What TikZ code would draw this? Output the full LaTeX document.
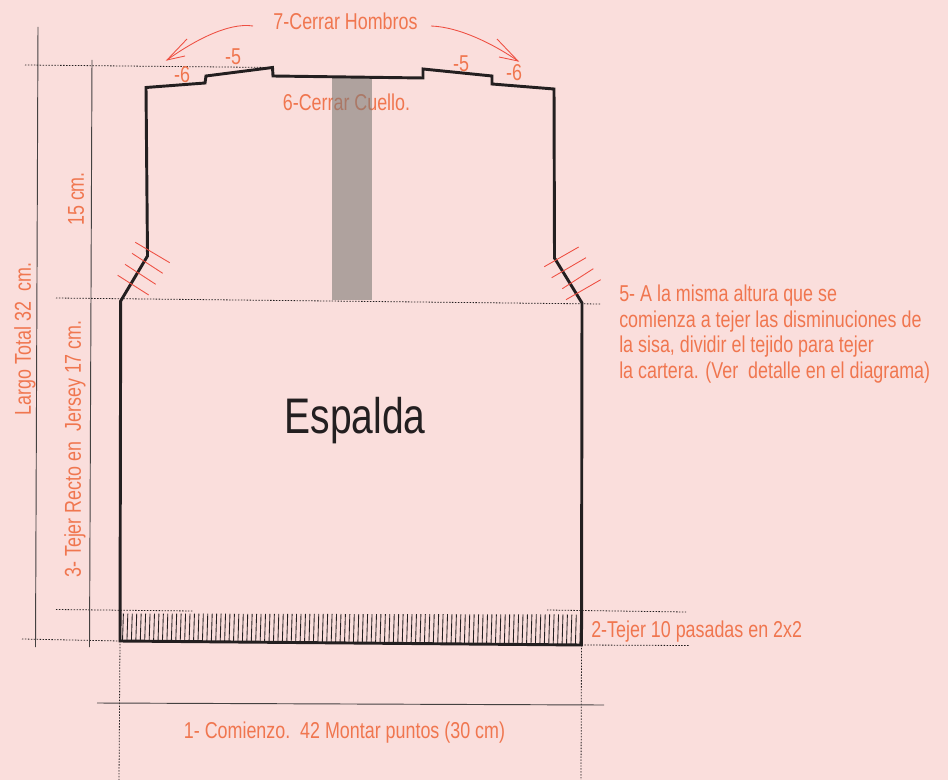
\documentclass[tikz,border=0pt]{standalone}
\usepackage{fontspec}
\setmainfont[FakeStretch=0.78]{Liberation Sans}
\definecolor{bgpink}{HTML}{FADEDC}
\definecolor{txtor}{HTML}{F0764F}
\definecolor{redln}{HTML}{EE4F42}
\definecolor{inkk}{HTML}{231F20}
\definecolor{neckc}{HTML}{7D7A76}
\tikzset{
  x=0.75pt,y=-0.75pt,
  lab/.style={text=txtor,font=\fontsize{17.2pt}{20pt}\selectfont,inner sep=0pt},
  outlinee/.style={draw=inkk,line width=2.2pt,line join=miter},
  dots/.style={draw=inkk,line width=0.6pt,dash pattern=on 1.1pt off 1.1pt},
  dim/.style={draw=inkk!85,line width=0.7pt},
  hatchred/.style={draw=redln,line width=0.65pt},
  arr/.style={draw=redln,line width=0.65pt},
}
\begin{document}
\begin{tikzpicture}
\path[use as bounding box,fill=bgpink] (0,0) rectangle (948,780);
% coordinates
\coordinate (bl) at (120,641);
\coordinate (br) at (581.5,645);
\coordinate (ul) at (120.7,301);
\coordinate (ur) at (582,303);
\coordinate (sl) at (147.5,256);
\coordinate (sr) at (554.5,258);
\coordinate (tl) at (146,87.5);
\coordinate (tr) at (554,89);
\coordinate (pl) at (272.5,67.5);
% text below the neck band
\node[lab,anchor=center] (neck) at (346.5,102) {6-Cerrar Cuello.};
\fill[neckc,opacity=0.6] (332,77) rectangle (372,300);
% ribbing
\foreach \i in {0,...,103}{
  \pgfmathsetmacro{\xx}{122.5+\i*4.44}
  \pgfmathsetmacro{\yt}{613.5+\i*0.01}
  \pgfmathsetmacro{\yb}{641+\i*0.04}
  \draw[draw=inkk,line width=0.65pt] (\xx,\yb) -- (\xx+0.9,\yt);
}
% dotted guides
\draw[dots] (25,65) -- (pl);
\draw[dots] (56,298) -- (600,304);
\draw[dots] (56,609.5) -- (193,611);
\draw[dots] (547,610) -- (686,612);
\draw[dots] (22,639) -- (bl);
\draw[dots] (br) -- (689,645.5);
\draw[dots] (bl) -- (119,780);
\draw[dots] (br) -- (581,780);
% dimension lines
\draw[dim] (38,27) -- (35.5,647);
\draw[dim] (92,60) -- (89.5,647);
\draw[dim] (97,703) -- (604,705);
% garment outline
\draw[outlinee] (bl) -- (ul) -- (sl) -- (tl) -- (205,83) -- (206,76) -- (pl) -- (273,76) -- (423,78) -- (423,69) -- (492,76) -- (492,84) -- (tr) -- (sr) -- (ur) -- (br) -- cycle;
% armhole hatching
\draw[hatchred] (135.3,242.3) -- (169.7,262.7);
\draw[hatchred] (132,253.3) -- (162.7,273.3);
\draw[hatchred] (125,264.3) -- (155.7,284.3);
\draw[hatchred] (117.7,275.3) -- (148.7,295);
\draw[hatchred] (578.7,247) -- (544.3,266.7);
\draw[hatchred] (586,257.7) -- (551.7,277.7);
\draw[hatchred] (593.3,268.7) -- (562.3,288.7);
\draw[hatchred] (600.7,279.7) -- (566,299.7);
% curved arrows
\coordinate (al) at (167,60);
\coordinate (ar) at (518,61);
\draw[arr] (253,26) .. controls (228,22) and (192,42) .. (al);
\draw[arr] (431,26) .. controls (460,27) and (495,45) .. (ar);
\draw[arr] (187,39) -- (al) -- (185,56);
\draw[arr] (497,39) -- (ar) -- (499,57);
% labels
\node[lab] (t7) at (345.5,21) {7-Cerrar Hombros};
\node[lab] (m6l) at (182,75) {-6};
\node[lab] (m5l) at (233,57) {-5};
\node[lab] (m5r) at (461,64) {-5};
\node[lab] (m6r) at (514,73) {-6};
\node[lab,rotate=90] (t15) at (76,199) {15 cm.};
\node[lab,rotate=90] (tlt) at (25,339) {Largo Total 32\ \ cm.};
\node[lab,rotate=90] (t3) at (75,449) {3- Tejer Recto en\ \ Jersey 17 cm.};
\node[inner sep=0pt,text=inkk,font=\fontsize{37.5pt}{44pt}\selectfont] (esp) at (355,421) {Espalda};
\node[lab,anchor=west] (t5a) at (619,296) {5- A la misma altura que se};
\node[lab,anchor=west] (t5b) at (619,322) {comienza a tejer las disminuciones de};
\node[lab,anchor=west] (t5c) at (619,347) {la sisa, dividir el tejido para tejer};
\node[lab,anchor=west] (t5d) at (619,373) {la cartera. (Ver\ \ detalle en el diagrama)};
\node[lab,anchor=west] (t2) at (591,632) {2-Tejer 10 pasadas en 2x2};
\node[lab] (t1) at (344.5,733) {1- Comienzo.\ \ 42 Montar puntos (30 cm)};
\end{tikzpicture}
\end{document}
